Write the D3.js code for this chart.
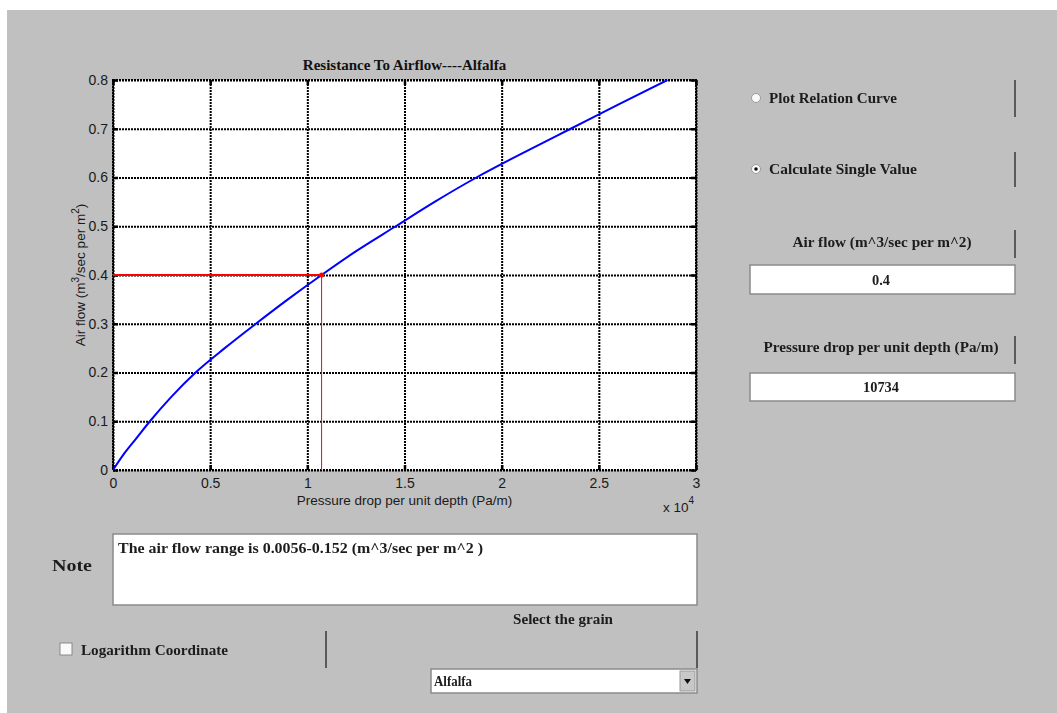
<!DOCTYPE html>
<html>
<head>
<meta charset="utf-8">
<script src="https://d3js.org/d3.v7.min.js"></script>
<style>
  body { margin: 0; background: #fff; }
  .tick text { font-family: "Liberation Sans", Arial, sans-serif; font-size: 14px; fill: #1a1a1a; }
  .lbl { font-family: "Liberation Sans", Arial, sans-serif; font-size: 13.5px; fill: #1a1a1a; }
  .gui { font-family: "Liberation Serif", "Times New Roman", serif; font-weight: bold; font-size: 15px; fill: #1c1c1c; }
</style>
</head>
<body>
<svg id="chart" width="1057" height="713"></svg>
<script>
// curve: pressure drop (Pa/m) vs air flow (m3/s per m2)
var pressure = [0, 600, 1200, 1900, 3000, 4250, 5750, 7350, 9000, 10734, 12550, 14550, 16550, 18700, 21080, 23550, 26020, 28530];
var airflow  = [0, 0.035, 0.065, 0.1, 0.15, 0.2, 0.25, 0.3, 0.35, 0.4, 0.45, 0.5, 0.55, 0.6, 0.65, 0.7, 0.75, 0.8];

// the single value that was calculated
var selAirflow = 0.4;
var selPressure = 10734;

var xTicks = [0, 5000, 10000, 15000, 20000, 25000, 30000];
var xTickLabels = ["0", "0.5", "1", "1.5", "2", "2.5", "3"];
var yTicks = [0, 0.1, 0.2, 0.3, 0.4, 0.5, 0.6, 0.7, 0.8];
var yTickLabels = ["0", "0.1", "0.2", "0.3", "0.4", "0.5", "0.6", "0.7", "0.8"];

var grains = ["Alfalfa"];
var noteText = "The air flow range is  0.0056-0.152  (m^3/sec per m^2 )";

var svg = d3.select("#chart");

var defs = svg.append("defs");
defs.append("filter").attr("id", "soft")
    .attr("x", "-5%").attr("y", "-5%").attr("width", "110%").attr("height", "110%")
  .append("feGaussianBlur").attr("stdDeviation", 0.5);
defs.append("clipPath").attr("id", "plotclip")
  .append("rect").attr("x", 113).attr("y", 80).attr("width", 583).attr("height", 390);

// gray figure window
svg.append("rect")
  .attr("x", 7).attr("y", 10).attr("width", 1050).attr("height", 703)
  .attr("fill", "#c0c0c0");

var pLeft = 113, pRight = 696, pTop = 80, pBottom = 470;

var x = d3.scaleLinear().domain([0, 30000]).range([pLeft, pRight]);
var y = d3.scaleLinear().domain([0, 0.8]).range([pBottom, pTop]);

svg.append("rect")
  .attr("x", pLeft).attr("y", pTop)
  .attr("width", pRight - pLeft).attr("height", pBottom - pTop)
  .attr("fill", "#fff");

// dotted grid
var dots = "2,1";
svg.append("g")
  .attr("transform", "translate(0," + pBottom + ")")
  .call(d3.axisBottom(x).tickValues(xTicks).tickSize(-(pBottom - pTop)).tickFormat(""))
  .call(function(g) { g.select(".domain").remove(); })
  .selectAll("line")
    .attr("stroke", "#000").attr("stroke-width", 2).attr("stroke-dasharray", dots);

svg.append("g")
  .attr("transform", "translate(" + pLeft + ",0)")
  .call(d3.axisLeft(y).tickValues(yTicks).tickSize(-(pRight - pLeft)).tickFormat(""))
  .call(function(g) { g.select(".domain").remove(); })
  .selectAll("line")
    .attr("stroke", "#000").attr("stroke-width", 2).attr("stroke-dasharray", dots);

svg.append("rect")
  .attr("x", pLeft).attr("y", pTop)
  .attr("width", pRight - pLeft).attr("height", pBottom - pTop)
  .attr("fill", "none").attr("stroke", "#000")
  .attr("stroke-width", 2).attr("stroke-dasharray", dots);

// axes, ticks pointing inward
function styleTicks(g) {
  g.select(".domain").remove();
  g.selectAll(".tick line").attr("stroke", "#000").attr("stroke-width", 2.5);
}

svg.append("g")
  .attr("transform", "translate(0," + pBottom + ")")
  .call(d3.axisBottom(x).tickValues(xTicks)
    .tickFormat(function(d, i) { return xTickLabels[i]; })
    .tickSizeInner(-5).tickSizeOuter(0).tickPadding(8))
  .call(styleTicks);

svg.append("g")
  .attr("transform", "translate(" + pLeft + ",0)")
  .call(d3.axisLeft(y).tickValues(yTicks)
    .tickFormat(function(d, i) { return yTickLabels[i]; })
    .tickSizeInner(-5).tickSizeOuter(0).tickPadding(5))
  .call(styleTicks);

svg.append("g")
  .attr("transform", "translate(0," + pTop + ")")
  .call(d3.axisTop(x).tickValues(xTicks).tickFormat("").tickSizeInner(-5).tickSizeOuter(0))
  .call(styleTicks);

svg.append("g")
  .attr("transform", "translate(" + pRight + ",0)")
  .call(d3.axisRight(y).tickValues(yTicks).tickFormat("").tickSizeInner(-5).tickSizeOuter(0))
  .call(styleTicks);

// relation curve
var pts = pressure.map(function(p, i) { return [p, airflow[i]]; });
var line = d3.line()
  .x(function(d) { return x(d[0]); })
  .y(function(d) { return y(d[1]); })
  .curve(d3.curveMonotoneX);

svg.append("path")
  .datum(pts)
  .attr("clip-path", "url(#plotclip)")
  .attr("d", line)
  .attr("fill", "none")
  .attr("stroke", "#0000ff")
  .attr("stroke-width", 2);

// red guide lines for the calculated value
svg.append("line")
  .attr("x1", x(0)).attr("x2", x(selPressure))
  .attr("y1", y(selAirflow)).attr("y2", y(selAirflow))
  .attr("stroke", "#ff0000").attr("stroke-width", 2);
svg.append("line")
  .attr("x1", x(selPressure)).attr("x2", x(selPressure))
  .attr("y1", y(selAirflow)).attr("y2", y(0))
  .attr("stroke", "#ff0000").attr("stroke-width", 1);
svg.append("circle")
  .attr("cx", x(selPressure)).attr("cy", y(selAirflow)).attr("r", 2.5)
  .attr("fill", "#ff0000");

// titles and labels
svg.append("text")
  .attr("x", (pLeft + pRight) / 2).attr("y", 70)
  .attr("text-anchor", "middle")
  .style("font-family", "'Liberation Serif', 'Times New Roman', serif")
  .style("font-weight", "bold").style("font-size", "15px").style("fill", "#111")
  .text("Resistance To Airflow----Alfalfa");

svg.append("text").attr("class", "lbl")
  .attr("x", (pLeft + pRight) / 2).attr("y", 505)
  .attr("text-anchor", "middle")
  .text("Pressure drop per unit depth (Pa/m)");

var yl = svg.append("text").attr("class", "lbl")
  .attr("transform", "translate(85," + ((pTop + pBottom) / 2) + ") rotate(-90)")
  .attr("text-anchor", "middle");
yl.append("tspan").text("Air flow (m");
yl.append("tspan").attr("dy", -6).style("font-size", "10px").text("3");
yl.append("tspan").attr("dy", 6).text("/sec per m");
yl.append("tspan").attr("dy", -6).style("font-size", "10px").text("2");
yl.append("tspan").attr("dy", 6).text(")");

var ex = svg.append("text").attr("class", "lbl").attr("x", 663).attr("y", 512);
ex.append("tspan").text("x 10");
ex.append("tspan").attr("dy", -8).style("font-size", "10px").text("4");

// ---- GUI controls ----
var gui = svg.append("g").attr("filter", "url(#soft)");

function guiText(txt, xx, yy, w, anchor) {
  return gui.append("text").attr("class", "gui")
    .attr("x", xx).attr("y", yy)
    .attr("text-anchor", anchor || "start")
    .attr("textLength", w).attr("lengthAdjust", "spacingAndGlyphs")
    .text(txt);
}
function sep(xx, y1, y2) {
  gui.append("line").attr("x1", xx).attr("x2", xx).attr("y1", y1).attr("y2", y2)
    .attr("stroke", "#5a5a5a").attr("stroke-width", 2);
}
function box(x0, y0, w, h) {
  gui.append("rect").attr("x", x0).attr("y", y0).attr("width", w).attr("height", h)
    .attr("fill", "#fff").attr("stroke", "#8a8a8a").attr("stroke-width", 1.5);
}
function radio(cx, cy, on) {
  gui.append("circle").attr("cx", cx).attr("cy", cy).attr("r", 4.5)
    .attr("fill", "#fafafa").attr("stroke", "#9a9a9a").attr("stroke-width", 1);
  if (on) gui.append("circle").attr("cx", cx).attr("cy", cy).attr("r", 1.8).attr("fill", "#111");
}

radio(756, 98, false);
guiText("Plot Relation Curve", 769, 103, 128);
sep(1015, 80, 117);

radio(756, 169, true);
guiText("Calculate Single Value", 769, 174, 148);
sep(1015, 152, 187);

guiText("Air flow (m^3/sec per m^2)", 882, 247, 179, "middle");
sep(1015, 230, 258);
box(750, 265, 265, 29);
guiText("0.4", 881, 285, 18, "middle");

guiText("Pressure drop per unit depth  (Pa/m)", 881, 352, 235, "middle");
sep(1015, 336, 364);
box(750, 373, 265, 28);
guiText(String(selPressure), 881, 392, 36, "middle");

// note area
gui.append("text").attr("class", "gui")
  .attr("x", 52).attr("y", 571)
  .style("font-size", "16px")
  .attr("textLength", 40).attr("lengthAdjust", "spacingAndGlyphs")
  .text("Note");
box(113, 534, 584, 71);
guiText(noteText, 118, 553, 365);

// log checkbox
gui.append("rect").attr("x", 60).attr("y", 643).attr("width", 12).attr("height", 12)
  .attr("fill", "#fafafa").attr("stroke", "#8a8a8a").attr("stroke-width", 1);
guiText("Logarithm Coordinate", 81, 655, 147);
sep(326, 631, 668);

// grain selector
guiText("Select the grain", 563, 624, 100, "middle");
sep(697, 631, 668);
box(431, 669, 266, 24);
guiText(grains[0], 434, 686, 38);
gui.append("rect").attr("x", 680).attr("y", 671).attr("width", 15).attr("height", 20)
  .attr("fill", "#c8c8c8").attr("stroke", "#9a9a9a").attr("stroke-width", 1);
gui.append("path").attr("d", "M684,679 L691,679 L687.5,684 Z").attr("fill", "#111");
</script>
</body>
</html>
